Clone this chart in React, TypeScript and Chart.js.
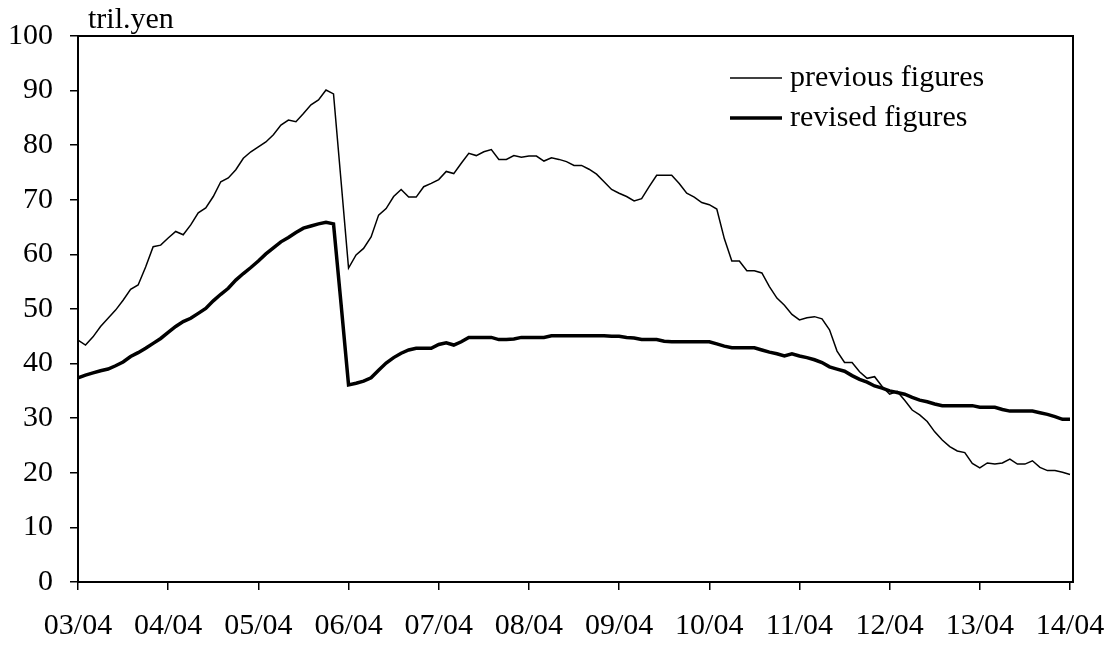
import React, { useEffect, useRef } from "react";
import { Chart, registerables } from "chart.js";

Chart.register(...registerables);

const months: string[] = [
  "03/04", "03/05", "03/06", "03/07", "03/08", "03/09", "03/10", "03/11", "03/12", "04/01", "04/02", "04/03",
  "04/04", "04/05", "04/06", "04/07", "04/08", "04/09", "04/10", "04/11", "04/12", "05/01", "05/02", "05/03",
  "05/04", "05/05", "05/06", "05/07", "05/08", "05/09", "05/10", "05/11", "05/12", "06/01", "06/02", "06/03",
  "06/04", "06/05", "06/06", "06/07", "06/08", "06/09", "06/10", "06/11", "06/12", "07/01", "07/02", "07/03",
  "07/04", "07/05", "07/06", "07/07", "07/08", "07/09", "07/10", "07/11", "07/12", "08/01", "08/02", "08/03",
  "08/04", "08/05", "08/06", "08/07", "08/08", "08/09", "08/10", "08/11", "08/12", "09/01", "09/02", "09/03",
  "09/04", "09/05", "09/06", "09/07", "09/08", "09/09", "09/10", "09/11", "09/12", "10/01", "10/02", "10/03",
  "10/04", "10/05", "10/06", "10/07", "10/08", "10/09", "10/10", "10/11", "10/12", "11/01", "11/02", "11/03",
  "11/04", "11/05", "11/06", "11/07", "11/08", "11/09", "11/10", "11/11", "11/12", "12/01", "12/02", "12/03",
  "12/04", "12/05", "12/06", "12/07", "12/08", "12/09", "12/10", "12/11", "12/12", "13/01", "13/02", "13/03",
  "13/04", "13/05", "13/06", "13/07", "13/08", "13/09", "13/10", "13/11", "13/12", "14/01", "14/02", "14/03",
  "14/04",
];

const tickLabels: string[] = [
  "03/04", "04/04", "05/04", "06/04", "07/04", "08/04", "09/04", "10/04", "11/04", "12/04", "13/04", "14/04",
];

const previousFigures: number[] = [
  44.3, 43.4, 44.9, 46.8, 48.3, 49.8, 51.6, 53.6, 54.4, 57.7, 61.4, 61.7,
  63.0, 64.2, 63.6, 65.4, 67.6, 68.5, 70.6, 73.3, 74.0, 75.5, 77.6, 78.8,
  79.7, 80.6, 81.9, 83.7, 84.6, 84.3, 85.8, 87.4, 88.3, 90.1, 89.4, 73.5,
  57.5, 59.9, 61.1, 63.2, 67.2, 68.4, 70.6, 71.9, 70.5, 70.5, 72.4, 73.0,
  73.7, 75.2, 74.8, 76.7, 78.5, 78.1, 78.8, 79.2, 77.4, 77.4, 78.1, 77.8,
  78.0, 78.0, 77.1, 77.7, 77.4, 77.0, 76.3, 76.3, 75.6, 74.7, 73.3, 71.9,
  71.2, 70.6, 69.8, 70.2, 72.4, 74.5, 74.5, 74.5, 73.0, 71.2, 70.5, 69.5,
  69.1, 68.3, 62.9, 58.8, 58.8, 57.0, 57.0, 56.6, 54.1, 52.0, 50.7, 49.0,
  48.0, 48.4, 48.6, 48.2, 46.2, 42.3, 40.2, 40.2, 38.5, 37.3, 37.6, 35.8,
  34.4, 34.9, 33.3, 31.5, 30.6, 29.4, 27.5, 26.0, 24.8, 24.0, 23.7, 21.7,
  20.9, 21.8, 21.6, 21.8, 22.5, 21.6, 21.6, 22.2, 21.0, 20.4, 20.4, 20.1,
  19.7,
];

const revisedFigures: number[] = [
  37.4, 37.9, 38.3, 38.7, 39.0, 39.6, 40.3, 41.3, 42.0, 42.8, 43.7, 44.6,
  45.7, 46.8, 47.7, 48.3, 49.2, 50.1, 51.5, 52.7, 53.8, 55.3, 56.5, 57.6,
  58.8, 60.1, 61.2, 62.3, 63.1, 64.0, 64.8, 65.2, 65.6, 65.9, 65.6, 51.0,
  36.1, 36.4, 36.8, 37.4, 38.8, 40.1, 41.1, 41.9, 42.5, 42.8, 42.8, 42.8,
  43.5, 43.8, 43.4, 44.0, 44.8, 44.8, 44.8, 44.8, 44.4, 44.4, 44.5, 44.8,
  44.8, 44.8, 44.8, 45.1, 45.1, 45.1, 45.1, 45.1, 45.1, 45.1, 45.1, 45.0,
  45.0, 44.8, 44.7, 44.4, 44.4, 44.4, 44.1, 44.0, 44.0, 44.0, 44.0, 44.0,
  44.0, 43.6, 43.2, 42.9, 42.9, 42.9, 42.9, 42.5, 42.1, 41.8, 41.4, 41.8,
  41.4, 41.1, 40.7, 40.2, 39.4, 39.0, 38.6, 37.8, 37.1, 36.6, 35.9, 35.5,
  35.0, 34.7, 34.4, 33.8, 33.3, 33.0, 32.6, 32.3, 32.3, 32.3, 32.3, 32.3,
  32.0, 32.0, 32.0, 31.6, 31.3, 31.3, 31.3, 31.3, 31.0, 30.7, 30.3, 29.8,
  29.8,
];

const seriesNames: string[] = ["previous figures", "revised figures"];
const unitLabel = "tril.yen";

const FONT = '"Liberation Serif", "Times New Roman", serif';

export default function App() {
  const canvasRef = useRef<HTMLCanvasElement | null>(null);

  useEffect(() => {
    const canvas = canvasRef.current;
    if (!canvas) return;

    const decorPlugin = {
      id: "decor",
      afterDraw(chart: any) {
        const { ctx, chartArea: a } = chart;
        ctx.save();
        ctx.strokeStyle = "#000";
        ctx.lineWidth = 2;
        ctx.beginPath();
        ctx.moveTo(a.left, a.top);
        ctx.lineTo(a.right + 3, a.top);
        ctx.lineTo(a.right + 3, a.bottom);
        ctx.lineTo(a.right, a.bottom);
        ctx.stroke();

        ctx.fillStyle = "#000";
        ctx.font = `30px ${FONT}`;
        ctx.textAlign = "left";
        ctx.textBaseline = "alphabetic";
        ctx.fillText(unitLabel, a.left + 10, a.top - 8);

        const widths = [1.5, 3.5];
        const rows = [78, 118];
        ctx.textBaseline = "middle";
        seriesNames.forEach((name, i) => {
          ctx.lineWidth = widths[i];
          ctx.beginPath();
          ctx.moveTo(730, rows[i]);
          ctx.lineTo(782, rows[i]);
          ctx.stroke();
          ctx.fillText(name, 790, rows[i]);
        });
        ctx.restore();
      },
    };

    const chart = new Chart(canvas, {
      type: "line",
      data: {
        labels: months,
        datasets: [
          {
            label: seriesNames[0],
            data: previousFigures,
            borderColor: "#000",
            borderWidth: 1.5,
            pointRadius: 0,
            tension: 0,
            fill: false,
          },
          {
            label: seriesNames[1],
            data: revisedFigures,
            borderColor: "#000",
            borderWidth: 3.5,
            pointRadius: 0,
            tension: 0,
            fill: false,
          },
        ],
      },
      options: {
        animation: false,
        responsive: false,
        devicePixelRatio: 1,
        layout: { padding: { top: 36, right: 43, left: 0, bottom: 0 } },
        plugins: {
          legend: { display: false },
          tooltip: { enabled: false },
          title: { display: false },
        },
        scales: {
          x: {
            type: "category",
            offset: false,
            border: { color: "#000", width: 2 },
            grid: {
              drawOnChartArea: false,
              drawTicks: true,
              tickLength: 8,
              color: "#000",
              lineWidth: 1.5,
            },
            ticks: {
              autoSkip: false,
              maxRotation: 0,
              minRotation: 0,
              padding: 18,
              color: "#000",
              font: { family: FONT, size: 30 },
              callback: (_v: any, i: number) =>
                tickLabels.includes(months[i]) ? months[i] : null,
            },
            afterFit: (scale: any) => {
              scale.height = 64;
              scale.paddingLeft = 0;
              scale.paddingRight = 0;
            },
          },
          y: {
            min: 0,
            max: 100,
            border: { color: "#000", width: 2 },
            grid: {
              drawOnChartArea: false,
              drawTicks: true,
              tickLength: 8,
              color: "#000",
              lineWidth: 1.5,
            },
            ticks: {
              stepSize: 10,
              padding: 17,
              color: "#000",
              font: { family: FONT, size: 30 },
            },
            afterFit: (scale: any) => {
              scale.width = 78;
              scale.paddingTop = 0;
              scale.paddingBottom = 0;
            },
          },
        },
      },
      plugins: [decorPlugin],
    });

    return () => chart.destroy();
  }, []);

  return (
    <div
      style={{
        position: "fixed",
        left: 0,
        top: 0,
        width: 1113,
        height: 646,
        background: "#fff",
      }}
    >
      <canvas
        ref={canvasRef}
        width={1113}
        height={646}
        style={{ width: 1113, height: 646, display: "block" }}
      />
    </div>
  );
}
